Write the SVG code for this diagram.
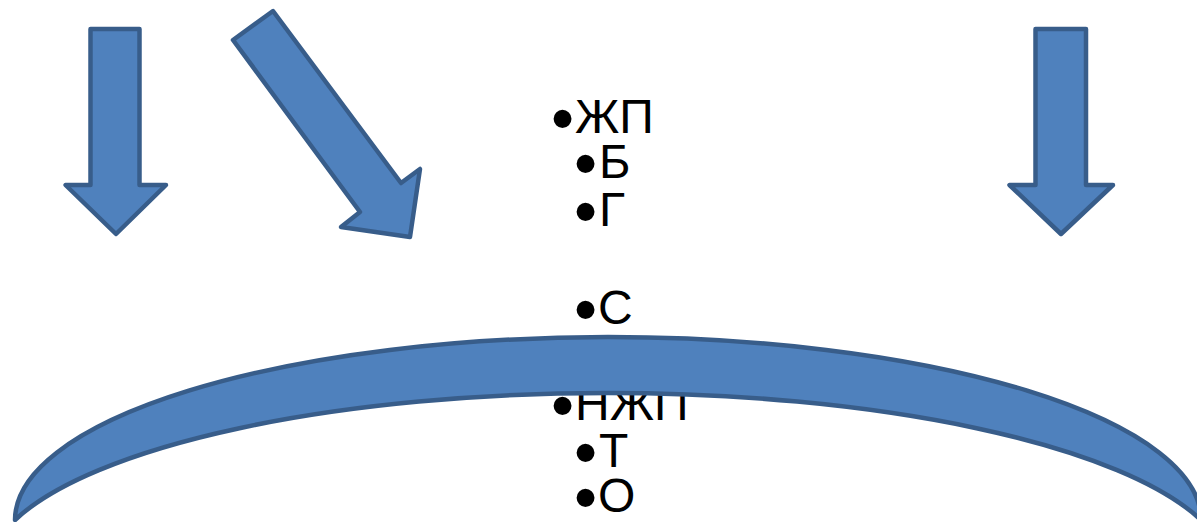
<svg xmlns="http://www.w3.org/2000/svg" width="1197" height="522" viewBox="0 0 1197 522">
<style>
.shape{fill:#4F81BD;stroke:#385D8A;stroke-width:4.5;stroke-linejoin:round}
.t{font-family:"Liberation Sans",Arial,sans-serif;font-size:48px;fill:#000}
.b{font-size:66px}
</style>
<rect width="1197" height="522" fill="#fff"/>
<g id="arrow-left"><path class="shape" d="M90.5,29 L139.5,29 L139.5,185 L166,185 L116,234 L65.5,185 L90.5,185 Z"/></g>
<g id="arrow-diag"><path class="shape" d="M233,40 L273,11 L401,183 L420,169 L410,237 L341,227 L360,212 Z"/></g>
<g id="arrow-right"><path class="shape" d="M1035.5,29 L1086,29 L1086,185 L1113,185 L1061,234 L1009.5,185 L1035.5,185 Z"/></g>
<g id="text">
<text class="t"><tspan class="b" x="551" y="141">•</tspan><tspan x="575" y="133">ЖП</tspan></text>
<text class="t"><tspan class="b" x="574" y="186">•</tspan><tspan x="599" y="178">Б</tspan></text>
<text class="t"><tspan class="b" x="574" y="234">•</tspan><tspan x="599" y="226">Г</tspan></text>
<text class="t"><tspan class="b" x="574" y="332">•</tspan><tspan x="598" y="324">С</tspan></text>
<text class="t"><tspan class="b" x="551" y="428">•</tspan><tspan x="575" y="420">НЖП</tspan></text>
<text class="t"><tspan class="b" x="574" y="475">•</tspan><tspan x="599" y="467">Т</tspan></text>
<text class="t"><tspan class="b" x="574" y="520">•</tspan><tspan x="598" y="512">О</tspan></text>
</g>
<g id="arc"><path class="shape" d="M15,520 A593,183 0 0 1 1201,520 A620.5,180 0 0 0 15,520 Z"/></g>
</svg>
